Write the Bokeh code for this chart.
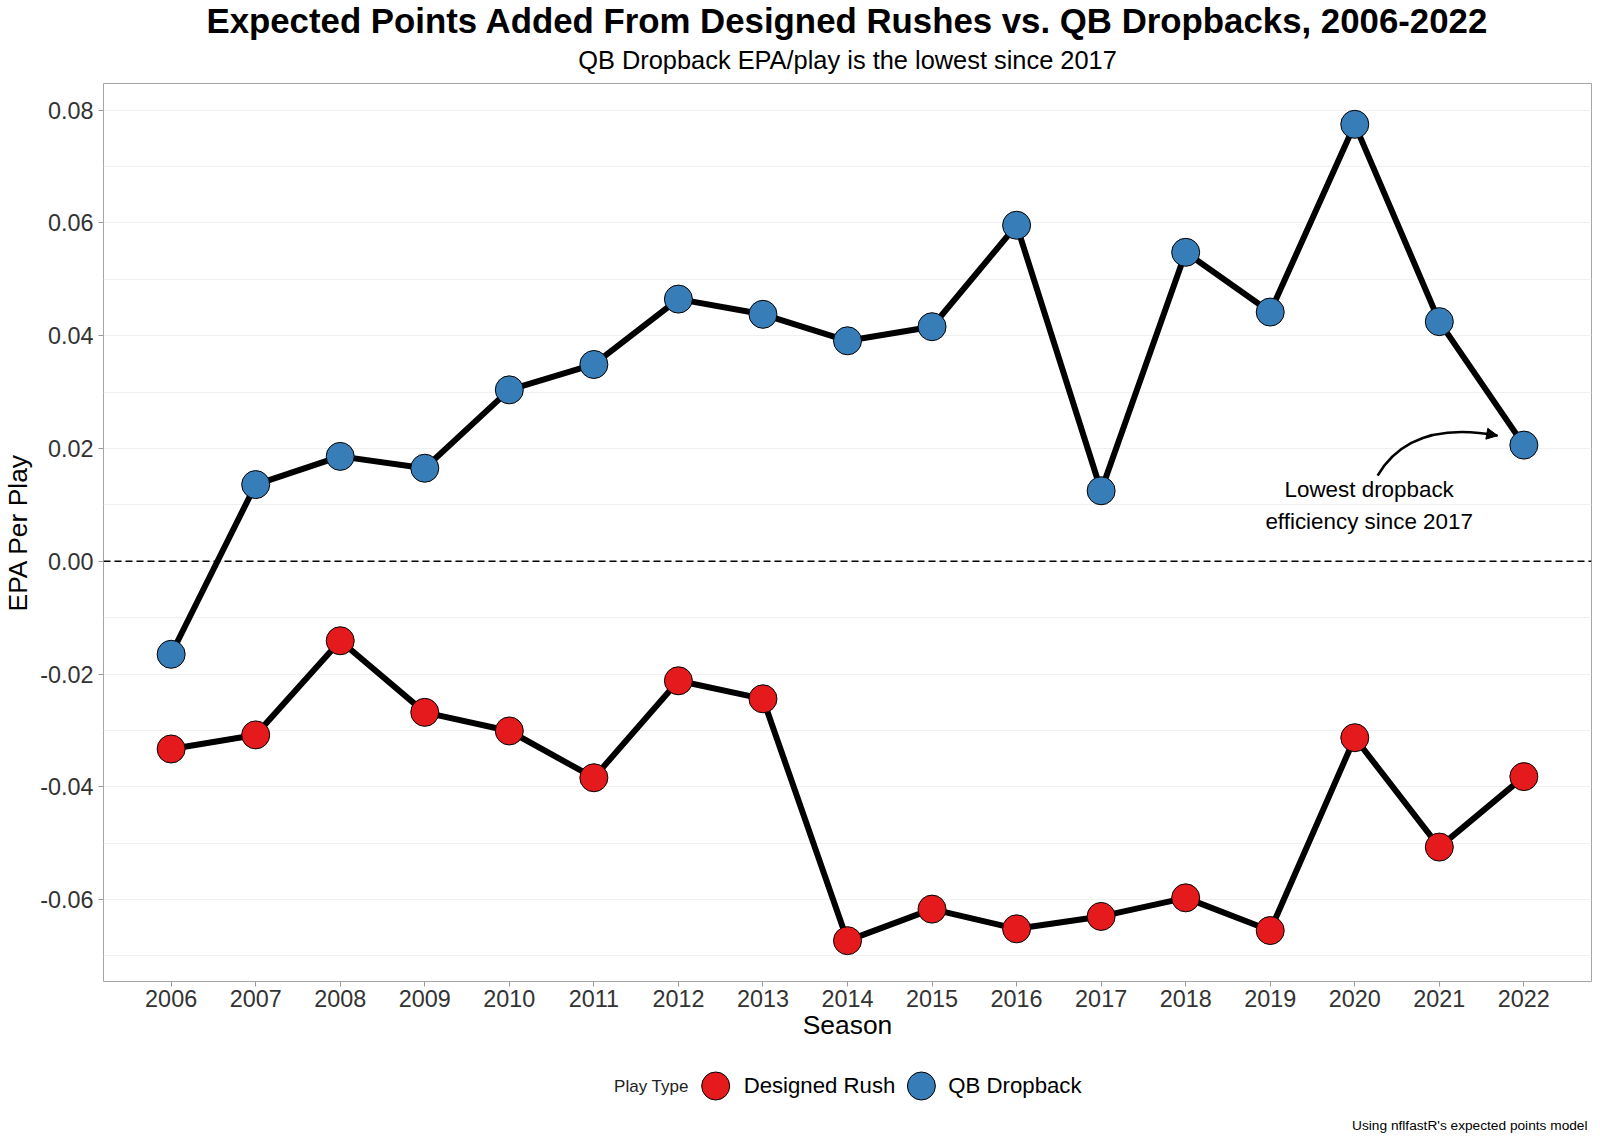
from bokeh.plotting import figure
from bokeh.layouts import column
from bokeh.models import (Range1d, FixedTicker, NumeralTickFormatter, Span, Arrow, NormalHead)
from bokeh.core.properties import value
from bokeh.embed import file_html
from bokeh.resources import INLINE

# ---------------- data ----------------
seasons = list(range(2006, 2023))
x_tick_labels = [str(s) for s in seasons]
qb_dropback = [-0.0165, 0.0136, 0.0186, 0.0165, 0.0304, 0.0349, 0.0465, 0.0438, 0.0391,
               0.0416, 0.0596, 0.0125, 0.0548, 0.0442, 0.0775, 0.0425, 0.0206]
designed_rush = [-0.0333, -0.0308, -0.0141, -0.0268, -0.0301, -0.0384, -0.0212, -0.0244,
                 -0.0673, -0.0617, -0.0652, -0.0630, -0.0597, -0.0655, -0.0313, -0.0507, -0.0382]
y_ticks = [-0.06, -0.04, -0.02, 0.0, 0.02, 0.04, 0.06, 0.08]
y_minor = [-0.07, -0.05, -0.03, -0.01, 0.01, 0.03, 0.05, 0.07]
series_names = ["Designed Rush", "QB Dropback"]
series_colors = ["#E41A1C", "#377EB8"]
legend_title = "Play Type"

title_text = "Expected Points Added From Designed Rushes vs. QB Dropbacks, 2006-2022"
subtitle_text = "QB Dropback EPA/play is the lowest since 2017"
caption_text = "Using nflfastR's expected points model"
annot_lines = ["Lowest dropback", "efficiency since 2017"]
x_title = "Season"
y_title = "EPA Per Play"

FONT = "Liberation Sans"
W = 1600
TOP_H = 78
MAIN_H = 972
BOT_H = 1143 - TOP_H - MAIN_H
FRAME_L, FRAME_R = 101, 1591   # strips' frames are aligned with the main frame


def blank_fig(h):
    f = figure(width=W, height=h, x_range=Range1d(FRAME_L, FRAME_R), y_range=Range1d(h, 0),
               x_axis_type=None, y_axis_type=None, output_backend="svg",
               toolbar_location=None, min_border=0, title=None)
    f.outline_line_color = None
    f.background_fill_color = "white"
    f.border_fill_color = "white"
    return f


# ---------------- title strip ----------------
top = blank_fig(TOP_H)
top.text(x=[846], y=[20.3], text=[title_text], text_align="center", text_baseline="middle",
         text_font=value(FONT), text_font_size="34.8px", text_font_style="bold", text_color="black")
top.text(x=[846], y=[59.6], text=[subtitle_text], text_align="center", text_baseline="middle",
         text_font=value(FONT), text_font_size="25.4px", text_color="black")

# ---------------- main plot ----------------
all_vals = qb_dropback + designed_rush
ymin, ymax = min(all_vals), max(all_vals)
ypad = 0.05 * (ymax - ymin)
xpad = 0.05 * (seasons[-1] - seasons[0])

p = figure(width=W, height=MAIN_H,
           x_range=Range1d(seasons[0] - xpad, seasons[-1] + xpad),
           y_range=Range1d(ymin - ypad, ymax + ypad),
           output_backend="svg", toolbar_location=None, title=None,
           min_border_left=FRAME_L, min_border_right=W - FRAME_R,
           min_border_top=5, min_border_bottom=69)
p.background_fill_color = "white"
p.border_fill_color = "white"
p.outline_line_color = "#A5A5A5"
p.outline_line_width = 1

p.xaxis.ticker = FixedTicker(ticks=seasons)
p.xaxis.major_label_overrides = {s: lab for s, lab in zip(seasons, x_tick_labels)}
p.yaxis.ticker = FixedTicker(ticks=y_ticks, minor_ticks=y_minor)
p.yaxis.formatter = NumeralTickFormatter(format="0.00")
for ax in (p.xaxis, p.yaxis):
    ax.axis_line_color = None
    ax.major_tick_line_color = "#9A9A9A"
    ax.major_tick_out = 5
    ax.major_tick_in = 0
    ax.minor_tick_line_color = None
    ax.major_label_text_font = FONT
    ax.major_label_text_font_size = "23.4px"
    ax.major_label_text_color = "#333333"
    ax.axis_label_text_font = FONT
    ax.axis_label_text_font_size = "26.4px"
    ax.axis_label_text_font_style = "normal"
    ax.axis_label_text_color = "black"
p.xaxis.major_label_standoff = 3
p.yaxis.major_label_standoff = 5
p.xaxis.axis_label = x_title
p.yaxis.axis_label = y_title
p.xaxis.axis_label_standoff = 0
p.yaxis.axis_label_standoff = 4

p.xgrid.grid_line_color = None
p.ygrid.grid_line_color = "#F0F0F0"
p.ygrid.minor_grid_line_color = "#F0F0F0"

p.add_layout(Span(location=0, dimension="width", line_color="black", line_width=1.5,
                  line_dash="7 4", level="underlay"))

p.line(seasons, designed_rush, line_color="black", line_width=6)
p.line(seasons, qb_dropback, line_color="black", line_width=6)
p.scatter(seasons, designed_rush, size=28, fill_color=series_colors[0],
          line_color="black", line_width=1)
p.scatter(seasons, qb_dropback, size=28, fill_color=series_colors[1],
          line_color="black", line_width=1)

p.text(x=[2020.17, 2020.17], y=[0.01272, 0.00712], text=annot_lines,
       text_align="center", text_baseline="middle",
       text_font=value(FONT), text_font_size="22.4px", text_color="black")
p.quadratic(x0=2020.27, y0=0.01519, x1=2021.69, y1=0.02228, cx=2020.66, cy=0.02511,
            line_color="black", line_width=2.5)
p.add_layout(Arrow(end=NormalHead(size=11, fill_color="black", line_color="black"),
                   x_start=2021.57, y_start=0.0226, x_end=2021.69, y_end=0.02228,
                   line_color="black", line_width=2.5))

# ---------------- legend + caption strip ----------------
bot = blank_fig(BOT_H)
bot.text(x=[687], y=[36], text=[legend_title], text_align="right", text_baseline="middle",
         text_font=value(FONT), text_font_size="17px", text_color="#222222")
bot.scatter(x=[714, 920], y=[35.5, 35.5], size=28, fill_color=series_colors,
            line_color="black", line_width=1)
bot.text(x=[742, 947], y=[35.2, 35.2], text=series_names, text_align="left",
         text_baseline="middle", text_font=value(FONT), text_font_size="22.2px",
         text_color="black")
bot.text(x=[1587], y=[74.7], text=[caption_text], text_align="right", text_baseline="middle",
         text_font=value(FONT), text_font_size="13.7px", text_color="black")

layout = column(top, p, bot, spacing=0)
open("out.html", "w").write(file_html(layout, INLINE))
